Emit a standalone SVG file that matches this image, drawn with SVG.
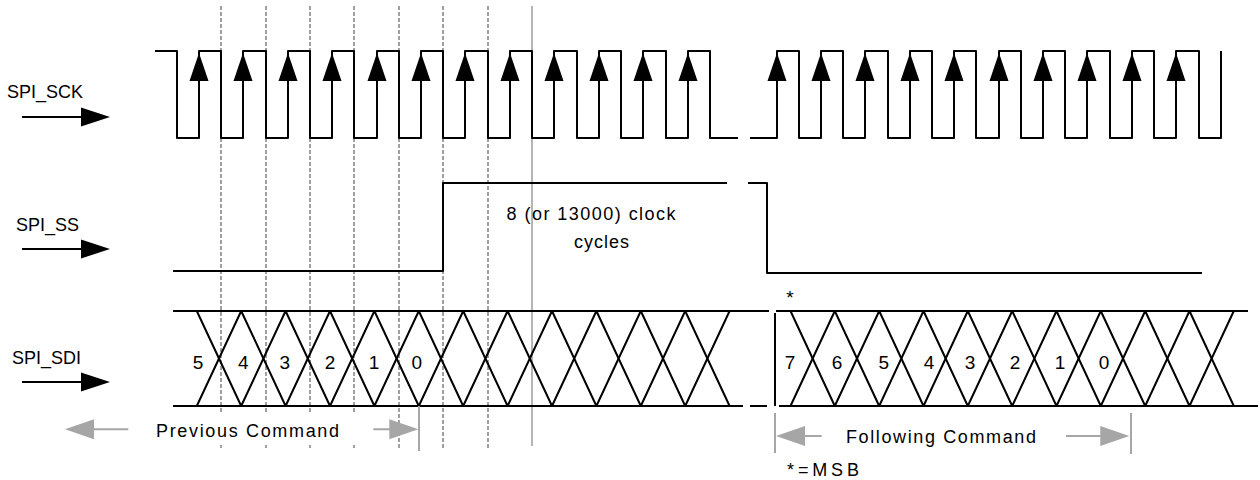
<svg xmlns="http://www.w3.org/2000/svg" xmlns:xlink="http://www.w3.org/1999/xlink" width="1260" height="480" viewBox="0 0 1260 480">
<style>
.w{fill:none;stroke:#000;stroke-width:2;stroke-linejoin:round}
.g{fill:none;stroke:#a0a0a0;stroke-width:2;stroke-dasharray:4 2}
.gs{fill:none;stroke:#b4b4b4;stroke-width:2}
.ga{fill:none;stroke:#a6a6a6;stroke-width:2}
.t{font-family:"Liberation Sans",Arial,sans-serif;font-size:18px;fill:#000}
.d{font-family:"Liberation Sans",Arial,sans-serif;font-size:19px;fill:#000;text-anchor:middle}
</style>
<defs>
<path id="ah" d="M0,0 L-9.5,28 L9.5,28 Z" fill="#000"/>
<path id="sig" d="M22,0 H82" stroke="#000" stroke-width="2"/>
<path id="sigh" d="M81,-9.5 L110,0 L81,9.5 Z" fill="#000"/>
<path id="gl" d="M0,0 L29,-10 V10 Z" fill="#a6a6a6"/>
<path id="gr" d="M0,0 L-29,-10 V10 Z" fill="#a6a6a6"/>
</defs>

<g id="gridlines">
<path class="g" d="M221,6 V448 M266,6 V448 M310,6 V448 M354,6 V448 M399,6 V448 M443,6 V448 M488,6 V448"/>
<path class="gs" d="M532,6 V446"/>
<rect x="140" y="414" width="245" height="31" fill="#fff"/>
</g>

<g id="labels">
<g id="lbl-sck"><text class="t" x="7" y="98">SPI_SCK</text><use xlink:href="#sig" y="117"/><use xlink:href="#sigh" y="117"/></g>
<g id="lbl-ss"><text class="t" x="16" y="231">SPI_SS</text><use xlink:href="#sig" y="249"/><use xlink:href="#sigh" y="249"/></g>
<g id="lbl-sdi"><text class="t" x="12" y="364">SPI_SDI</text><use xlink:href="#sig" y="382"/><use xlink:href="#sigh" y="382"/></g>
</g>

<g id="sck">
<path class="w" d="M155,51 H177 V138 H199 V51 H221 V138 H243 V51 H266 V138 H288 V51 H310 V138 H332 V51 H354 V138 H377 V51 H399 V138 H421 V51 H443 V138 H465 V51 H488 V138 H510 V51 H532 V138 H554 V51 H577 V138 H599 V51 H621 V138 H643 V51 H666 V138 H688 V51 H710 V138 H738"/>
<path class="w" d="M750,138 H777 V51 H799 V138 H821 V51 H843 V138 H865 V51 H888 V138 H910 V51 H932 V138 H954 V51 H976 V138 H999 V51 H1021 V138 H1043 V51 H1065 V138 H1087 V51 H1110 V138 H1132 V51 H1154 V138 H1176 V51 H1199 V138 H1221 V51"/>
<g id="edges">
<use xlink:href="#ah" x="199" y="53"/><use xlink:href="#ah" x="243" y="53"/><use xlink:href="#ah" x="288" y="53"/><use xlink:href="#ah" x="332" y="53"/><use xlink:href="#ah" x="377" y="53"/><use xlink:href="#ah" x="421" y="53"/><use xlink:href="#ah" x="465" y="53"/><use xlink:href="#ah" x="510" y="53"/><use xlink:href="#ah" x="554" y="53"/><use xlink:href="#ah" x="599" y="53"/><use xlink:href="#ah" x="643" y="53"/><use xlink:href="#ah" x="688" y="53"/>
<use xlink:href="#ah" x="777" y="53"/><use xlink:href="#ah" x="821" y="53"/><use xlink:href="#ah" x="865" y="53"/><use xlink:href="#ah" x="910" y="53"/><use xlink:href="#ah" x="954" y="53"/><use xlink:href="#ah" x="999" y="53"/><use xlink:href="#ah" x="1043" y="53"/><use xlink:href="#ah" x="1087" y="53"/><use xlink:href="#ah" x="1132" y="53"/><use xlink:href="#ah" x="1176" y="53"/>
</g>
</g>

<g id="ss">
<path class="w" d="M173,271 H443 V183 H727"/>
<path class="w" d="M748,183 H767 V273 H1202"/>
<text class="t" x="506.5" y="220" textLength="169" lengthAdjust="spacing">8 (or 13000) clock</text>
<text class="t" x="574" y="248" textLength="55" lengthAdjust="spacing">cycles</text>
</g>

<g id="sdi">
<path class="w" d="M173,311 H769 M173,406 H743 M750,406 H767"/>
<path class="w" d="M196.8,311 L241.2,406 L285.6,311 L330,406 L374.4,311 L418.8,406 L463.2,311 L507.6,406 L552,311 L596.4,406 L640.8,311 L685.2,406 L729.6,311"/>
<path class="w" d="M196.8,406 L241.2,311 L285.6,406 L330,311 L374.4,406 L418.8,311 L463.2,406 L507.6,311 L552,406 L596.4,311 L640.8,406 L685.2,311 L729.6,406"/>
<text class="d" x="198" y="369">5</text><text class="d" x="243.3" y="369">4</text><text class="d" x="284.7" y="369">3</text><text class="d" x="330" y="369">2</text><text class="d" x="374" y="369">1</text><text class="d" x="416.7" y="369">0</text>
<path class="w" d="M775,313 V406 M779,406 H1258 M776,311 H1248"/>
<path class="w" d="M790.5,311 L834.8,406 L879.2,311 L923.5,406 L967.8,311 L1012.2,406 L1056.5,311 L1100.8,406 L1145.2,311 L1189.5,406 L1233.8,311"/>
<path class="w" d="M790.5,406 L834.8,311 L879.2,406 L923.5,311 L967.8,406 L1012.2,311 L1056.5,406 L1100.8,311 L1145.2,406 L1189.5,311 L1233.8,406"/>
<text class="d" x="790" y="369">7</text><text class="d" x="837" y="369">6</text><text class="d" x="883.7" y="369">5</text><text class="d" x="929" y="369">4</text><text class="d" x="970" y="369">3</text><text class="d" x="1015" y="369">2</text><text class="d" x="1060" y="369">1</text><text class="d" x="1104" y="369">0</text>
<text class="d" x="790" y="304">*</text>
</g>

<g id="connectors">
<g id="prev-cmd">
<path class="ga" d="M92,429.3 H128.3 M373.3,429.3 H392 M419,406 V451"/>
<use xlink:href="#gl" x="65" y="429.3"/>
<use xlink:href="#gr" x="418.3" y="429.3"/>
<text class="t" x="156" y="437" textLength="183" lengthAdjust="spacing">Previous Command</text>
</g>
<g id="follow-cmd">
<path class="ga" d="M775,413 V453 M1131,413 V454 M794,436 H821.7 M1066,436 H1108"/>
<use xlink:href="#gl" x="776" y="436"/>
<use xlink:href="#gr" x="1129.3" y="436"/>
<text class="t" x="846" y="443" textLength="190" lengthAdjust="spacing">Following Command</text>
</g>
</g>
<text class="t" x="787" y="476" textLength="72" lengthAdjust="spacing">*=MSB</text>
</svg>
